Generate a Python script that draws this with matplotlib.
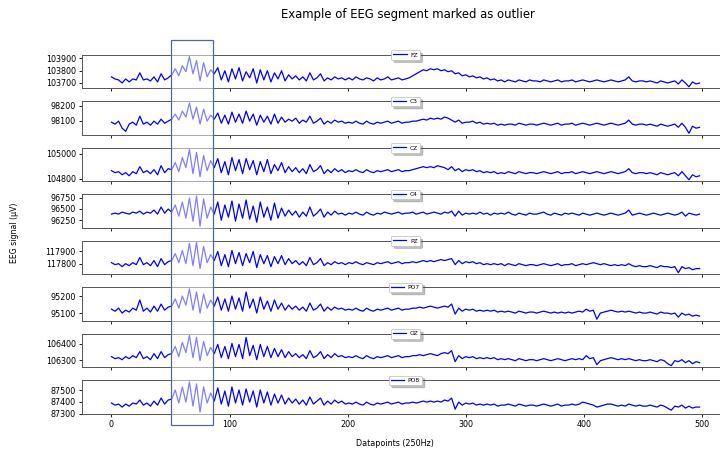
import numpy as np
import matplotlib
matplotlib.use("Agg")
import matplotlib.pyplot as plt
import matplotlib.transforms as mtransforms
from matplotlib.patches import Rectangle

# sample index (every 3rd datapoint of the 500-sample segment)
datapoints = np.arange(0, 499, 3)

channels = ["FZ", "C3", "CZ", "C4", "PZ", "PO7", "OZ", "PO8"]

# values, as offsets from a round baseline (µV)
fz = 103700 + np.array([
    49, 32, 24, -1, 32, 8, 32, 24, 82, 24, 32, 16, 49, 8, 74, 24, 41,
    66, 115, 57, 140, 91, 215, 74, 182, 16, 165, 49, 107, 74,
    124, 24, 99, 8, 115, 32, 124, 16, 91, 41, 115, -1, 107, 24, 99, 8, 82, 32, 99, 16, 66,
    32, 57, 24, 49, 16, 82, 24, 41, 74, 16, 41, 24, 49, 32, 41, 24,
    41, 24, 49, 32, 24, 41, 32, 16, 41, 24, 32, 49, 24, 32, 41, 24, 32,
    41, 57, 74, 91, 107, 99, 115, 107, 115, 99, 107, 91, 99, 74, 82, 57, 66,
    49, 57, 41, 49, 32, 41, 24, 32, 16, 24, 8, 24, 16, 8, 24, 16, 8, 24, 16, 16,
    8, 24, 16, 8, 16, 24, 8, 16, 16, 24, 8, 16, 24, 16, 8, 16, 24, 16, 8, 16,
    24, 16, 8, 16, 24, 49, 16, 8, 16, 16, 8, 16, 8, -1, 16, 8, -1, 8, 16, -9,
    24, -1, -32, 8, -9, -1])

c3 = 98100 + np.array([
    -11, -24, -4, -51, -72, -24, -11, -31, 29, -24, -11, -31, -4, -24, 9, -18, -4,
    9, 43, 3, 63, 23, 117, 9, 90, -24, 76, -4, 36, 9,
    50, -18, 36, -24, 56, -11, 43, -18, 63, -4, 43, -31, 36, -11, 29, -24, 43, -18, 23, -11, 9,
    -4, 16, -18, 3, -11, 29, -18, -4, 16, -24, -4, -18, 3, -11, -4, -18,
    -11, -18, -4, -18, -24, -4, -18, -24, -11, -18, -11, -4, -18, -11, -4, -18, -11,
    -11, -4, -4, 3, 9, 3, 16, 9, 16, 9, 23, 16, 3, -11, 3, -18, -11,
    -11, -4, -18, -11, -24, -18, -24, -18, -31, -24, -31, -24, -24, -31, -18, -24, -31, -24, -24, -31,
    -24, -18, -24, -31, -24, -18, -31, -24, -24, -18, -31, -24, -18, -24, -31, -24, -18, -24, -31, -24,
    -18, -24, -31, -24, -18, 3, -24, -31, -24, -24, -31, -24, -31, -38, -24, -31, -38, -31, -24, -45,
    -18, -45, -85, -38, -51, -45])

cz = 104900 + np.array([
    -36, -52, -44, -69, -52, -77, -44, -60, -4, -52, -36, -60, -28, -69, 4, -52, -20,
    -28, 29, -44, 69, -12, 134, -60, 110, -85, 85, -36, 45, -12,
    61, -52, 37, -69, 69, -36, 53, -60, 61, -28, 45, -69, 37, -44, 53, -60, 13, -36, 29, -52, -4,
    -44, -12, -52, -20, -60, 13, -44, -28, 4, -60, -28, -52, -20, -44, -28, -52,
    -36, -44, -28, -44, -52, -28, -44, -52, -36, -44, -36, -28, -44, -36, -28, -44, -36,
    -36, -28, -20, -12, -4, -12, -4, -12, 4, -4, -12, -28, -4, -36, -20, -44, -28,
    -36, -28, -44, -36, -52, -44, -52, -44, -60, -52, -60, -44, -52, -60, -44, -52, -60, -52, -52, -60,
    -52, -44, -52, -60, -52, -44, -60, -52, -52, -44, -60, -52, -44, -52, -60, -52, -44, -52, -60, -52,
    -44, -52, -60, -52, -44, -20, -52, -60, -52, -52, -60, -52, -60, -69, -52, -60, -69, -60, -52, -77,
    -44, -77, -109, -69, -85, -77])

c4 = 96500 + np.array([
    -118, -96, -118, -73, -96, -118, -73, -96, -51, -118, -73, -96, -28, -118, 40, -96, -6,
    -73, 85, -163, 152, -208, 242, -276, 287, -388, 220, -208, 40, -118,
    152, -253, 85, -186, 175, -276, 107, -208, 197, -231, 62, -298, 152, -186, 40, -253, 130, -208, 17, -163, -28,
    -141, -51, -186, -73, -163, 40, -163, -96, -6, -186, -73, -141, -51, -118, -96, -141,
    -96, -118, -73, -118, -141, -73, -118, -141, -96, -118, -73, -96, -118, -96, -73, -118, -96,
    -96, -73, -118, -96, -73, -118, -96, -73, -96, -118, -73, -96, -51, -163, -51, -141, -96,
    -118, -96, -118, -73, -118, -96, -141, -96, -118, -96, -118, -73, -118, -141, -96, -118, -141, -96, -118, -118,
    -96, -73, -118, -141, -96, -118, -141, -96, -118, -96, -118, -141, -96, -118, -141, -118, -96, -118, -141, -118,
    -96, -118, -141, -118, -96, -28, -141, -118, -96, -118, -141, -118, -96, -118, -141, -118, -96, -118, -141, -118,
    -73, -163, -96, -118, -141, -118])

pz = 117800 + np.array([
    8, -8, 0, -24, 0, -16, 8, -8, 49, -8, 8, -16, 25, -24, 41, -8, 16,
    25, 81, 8, 106, 0, 163, -16, 171, -40, 138, 8, 73, 25,
    98, -16, 73, -24, 106, 0, 90, -16, 81, 8, 98, -32, 73, 0, 65, -24, 57, 0, 65, -8, 41,
    0, 25, -8, 16, -16, 49, -8, 8, 41, -16, 8, -8, 16, 0, 8, -8,
    8, 0, 16, 0, -8, 8, 0, -8, 8, 0, 8, 16, 0, 8, 16, 0, 8,
    8, 16, 8, 16, 25, 16, 25, 16, 25, 33, 25, 33, 41, -8, 25, 0, 16,
    8, 16, 0, 8, -8, 0, -8, 0, -8, 0, -16, 0, -8, -16, 0, -8, -16, -8, -8, -16,
    -8, 0, -8, -16, -8, 0, -16, -8, -8, 0, -16, -8, 0, -8, 0, 8, 0, -8, 0, -8,
    -16, -8, -16, -8, -16, 0, -16, -24, -16, -24, -24, -16, -24, -32, -16, -24, -24, -32, -24, -73,
    -24, -40, -32, -49, -40, -40])

po7 = 95100 + np.array([
    25, 13, 31, 2, 19, 8, 31, 19, 79, 13, 31, 8, 43, 13, 55, 19, 37,
    43, 85, 31, 102, 49, 144, 19, 126, 2, 114, 31, 79, 43,
    96, 19, 85, 13, 102, 25, 91, 13, 126, 31, 85, 2, 96, 25, 73, 13, 79, 25, 61, 19, 49,
    25, 43, 19, 37, 13, 61, 19, 31, 55, 13, 37, 19, 37, 25, 31, 19,
    25, 19, 31, 19, 13, 31, 19, 13, 25, 19, 25, 31, 19, 25, 31, 19, 25,
    25, 31, 31, 37, 31, 37, 43, 37, 31, 37, 43, 37, 55, -4, 31, 13, 25,
    19, 25, 13, 19, 13, 19, 13, 19, 8, 13, 8, 13, 8, 2, 13, 8, 2, 8, 8, 2,
    8, 13, 8, 2, 8, 2, 8, 2, 8, 2, 8, 13, 8, 25, 13, 19, -34, 2, 8, 13,
    19, 13, 8, 13, 8, 13, 8, 2, 8, 2, 2, 8, 2, -4, 8, 2, 2, -4, 2, -22,
    2, -10, -4, -16, -10, -16])

oz = 106300 + np.array([
    23, 11, 17, 5, 23, 11, 29, 17, 53, 11, 23, 5, 41, 11, 53, 17, 35,
    41, 84, 23, 108, 47, 150, 17, 138, -1, 114, 29, 78, 41,
    96, 17, 84, 11, 102, 23, 96, 11, 138, 29, 90, 5, 96, 23, 84, 17, 72, 23, 65, 17, 53,
    23, 41, 17, 35, 11, 59, 17, 29, 53, 11, 35, 17, 41, 23, 29, 17,
    23, 17, 29, 17, 11, 29, 17, 11, 23, 17, 23, 29, 17, 23, 29, 17, 23,
    23, 29, 29, 35, 29, 35, 41, 35, 29, 41, 47, 41, 59, -7, 29, 11, 23,
    17, 23, 11, 17, 11, 17, 11, 17, 5, 11, 5, 11, 5, -1, 11, 5, -1, 5, 5, -1,
    5, 11, 5, -1, 5, 11, 5, -1, 5, 11, 5, 11, 5, 29, 11, 17, -25, -1, 5, 11,
    17, 11, 5, 11, 5, 11, 5, -1, 5, -1, -1, 5, -1, -7, 5, -1, -19, -31, -1, -7,
    5, -13, -1, -19, -7, -13])

po8 = 87400 + np.array([
    -9, -27, -18, -44, -18, -36, -9, -18, 17, -27, -9, -36, 8, -27, 34, -18, 17,
    25, 104, -9, 130, -1, 174, -36, 156, -88, 130, -9, 78, 8,
    122, -18, 95, -36, 130, -9, 104, -27, 113, -1, 95, -44, 104, -9, 87, -27, 69, -9, 60, -18, 34,
    -9, 25, -18, 17, -27, 43, -18, 8, 34, -27, 8, -18, 17, -9, 8, -18,
    -9, -18, -1, -18, -27, -1, -18, -27, -9, -18, -9, -1, -18, -9, -1, -18, -9,
    -9, -1, -9, -1, 8, -1, 8, -1, 8, -1, 17, 8, 34, -62, -1, -27, -9,
    -18, -9, -27, -18, -27, -18, -27, -18, -36, -27, -27, -18, -27, -36, -18, -27, -36, -27, -27, -36,
    -27, -18, -27, -36, -27, -18, -36, -27, -27, -18, -27, -18, -1, -9, -18, -27, -44, -36, -27, -18,
    -18, -27, -36, -27, -36, -18, -27, -36, -27, -36, -36, -27, -36, -44, -27, -36, -53, -71, -36, -44,
    -27, -53, -36, -53, -44, -44])

signals = [fz, c3, cz, c4, pz, po7, oz, po8]

ytick_values = [
    [103700, 103800, 103900],
    [98100, 98200],
    [104800, 105000],
    [96250, 96500, 96750],
    [117800, 117900],
    [95100, 95200],
    [106300, 106400],
    [87300, 87400, 87500],
]
xtick_values = [0, 100, 200, 300, 400, 500]

# outlier window (datapoints)
outlier_start = 50
outlier_end = 86

fig, axes = plt.subplots(8, 1, sharex=True, figsize=(7.2, 4.53), dpi=100,
                         gridspec_kw=dict(left=0.114, right=1.0125, top=0.8786,
                                          bottom=0.0868, hspace=0.395))

for ax, name, sig, yt in zip(axes, channels, signals, ytick_values):
    ax.plot(datapoints, sig, color="blue", lw=0.9, label=name)
    ax.set_yticks(yt)
    ax.set_yticklabels([str(v) for v in yt])
    ax.tick_params(labelsize=5.8, length=2.5, width=0.6, pad=2)
    for sp in ax.spines.values():
        sp.set_linewidth(0.7)
        sp.set_color("#555555")
    leg = ax.legend(loc="center", bbox_to_anchor=(0.5, 1.0), fontsize=4.3,
                    shadow={"alpha": 0.35}, handlelength=2.2, borderpad=0.35,
                    handletextpad=0.6, borderaxespad=0)
    leg.get_frame().set_linewidth(0.5)
    leg.get_frame().set_edgecolor("#bbbbbb")

axes[-1].set_xticks(xtick_values)

# mark the outlier segment across all channels
trans = mtransforms.blended_transform_factory(axes[-1].transData, fig.transFigure)
rect = Rectangle((outlier_start, 0.062), outlier_end - outlier_start, 0.850,
                 transform=trans, facecolor=(1, 1, 1, 0.5),
                 edgecolor="#4c6a9c", lw=0.9, zorder=10)
fig.add_artist(rect)

fig.text(0.567, 0.967, "Example of EEG segment marked as outlier",
         ha="center", va="center", fontsize=8.4)
fig.text(0.549, 0.022, "Datapoints (250Hz)", ha="center", va="center", fontsize=5.8)
fig.text(0.02, 0.487, "EEG signal (µV)", ha="center", va="center",
         rotation=90, fontsize=5.6)

fig.savefig("out.png", dpi=100)
